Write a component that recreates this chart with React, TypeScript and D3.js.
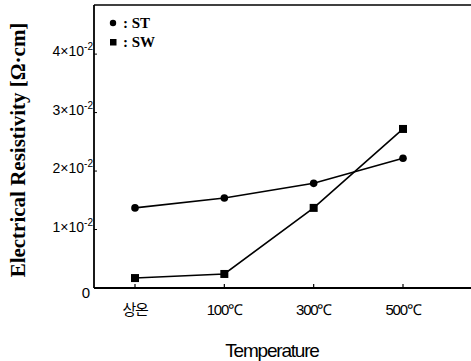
import React from 'react'
import * as d3 from 'd3'

const categories = ['상온', '100℃', '300℃', '500℃']
const stValues = [1.37, 1.54, 1.79, 2.22] // x10^-2 Ω·cm
const swValues = [0.17, 0.24, 1.37, 2.72]
const yTicks = [0, 1, 2, 3, 4]

const width = 471
const height = 361
const margin = { top: 5, right: 0, bottom: 73, left: 94 }

export default function App() {
  const innerH = height - margin.top - margin.bottom

  // Category positions along the bottom axis
  const x = d3
    .scalePoint<string>()
    .domain(categories)
    .range([margin.left + 41, margin.left + 309])

  const y = d3
    .scaleLinear()
    .domain([0, 4.84])
    .range([margin.top + innerH, margin.top])

  const line = d3
    .line<number>()
    .x((_d, i) => x(categories[i]) as number)
    .y(d => y(d))

  const serif = '"Liberation Serif", "DejaVu Serif", serif'
  const sans = '"Liberation Sans", Arial, sans-serif'
  const y0 = y(0)

  return (
    <svg width={width} height={height} style={{ position: 'absolute', left: 0, top: 0 }}>
      <rect width={width} height={height} fill="#fff" />

      {/* frame */}
      <line x1={margin.left} x2={margin.left} y1={margin.top} y2={y0} stroke="#000" strokeWidth={1.8} />
      <line x1={margin.left} x2={width} y1={y0} y2={y0} stroke="#000" strokeWidth={1.8} />
      <line x1={margin.left} x2={width} y1={margin.top} y2={margin.top} stroke="#000" strokeWidth={1.3} />

      {/* y ticks and labels */}
      {yTicks.map(t => (
        <g key={t}>
          {t > 0 && (
            <line x1={margin.left} x2={margin.left + 3} y1={y(t)} y2={y(t)} stroke="#000" strokeWidth={1} />
          )}
          {t === 0 ? (
            <text x={90} y={y(t) + 10} textAnchor="end" fontFamily={sans} fontSize={15} fill="#000">
              0
            </text>
          ) : (
            <text x={93} y={y(t) + 2} textAnchor="end" fontFamily={sans} fontSize={14} fill="#000">
              {t}×10
              <tspan dy={-6} fontSize={10}>
                -2
              </tspan>
            </text>
          )}
        </g>
      ))}

      {/* x ticks and labels */}
      {categories.map(c => (
        <g key={c}>
          <line x1={x(c)} x2={x(c)} y1={y0} y2={y0 - 4} stroke="#000" strokeWidth={1.2} />
          <text
            x={x(c)}
            y={y0 + 27}
            textAnchor="middle"
            fontFamily={c === '상온' ? '"Noto Sans CJK KR", sans-serif' : sans}
            fontSize={15}
            letterSpacing={-1.2}
            fill="#000"
          >
            {c}
          </text>
        </g>
      ))}

      {/* series */}
      <path d={line(stValues) || ''} fill="none" stroke="#000" strokeWidth={1.6} />
      <path d={line(swValues) || ''} fill="none" stroke="#000" strokeWidth={1.6} />
      {stValues.map((v, i) => (
        <circle key={'st' + i} cx={x(categories[i])} cy={y(v)} r={3.8} fill="#000" />
      ))}
      {swValues.map((v, i) => (
        <rect key={'sw' + i} x={(x(categories[i]) as number) - 4} y={y(v) - 4} width={8} height={8} fill="#000" />
      ))}

      {/* legend */}
      <circle cx={113} cy={23} r={3.2} fill="#000" />
      <text x={123} y={28} fontFamily={serif} fontWeight="bold" fontSize={15} fill="#000">
        : ST
      </text>
      <rect x={110} y={39} width={6.5} height={6.5} fill="#000" />
      <text x={123} y={47} fontFamily={serif} fontWeight="bold" fontSize={15} fill="#000">
        : SW
      </text>

      {/* axis titles */}
      <text
        x={272}
        y={357}
        textAnchor="middle"
        fontFamily={sans}
        fontSize={19}
        letterSpacing={-1.2}
        fill="#000"
      >
        Temperature
      </text>
      <text
        transform={`translate(25, ${150}) rotate(-90)`}
        textAnchor="middle"
        fontFamily={serif}
        fontWeight="bold"
        fontSize={21}
        fill="#000"
      >
        Electrical Resistivity [Ω·cm]
      </text>
    </svg>
  )
}
